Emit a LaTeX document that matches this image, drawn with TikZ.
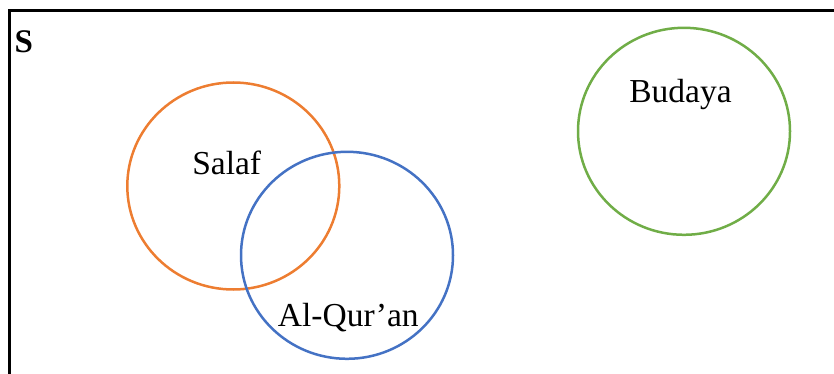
\documentclass[tikz,border=0pt]{standalone}
\usepackage{fontspec}
\setmainfont{Liberation Serif}
\usetikzlibrary{shapes.geometric}
\definecolor{setorange}{HTML}{ED7D31}
\definecolor{setblue}{HTML}{4472C4}
\definecolor{setgreen}{HTML}{70AD47}
\tikzset{
  setring/.style={ellipse, draw=#1, line width=2.5pt, inner sep=0pt,
                  minimum width=212pt, minimum height=207pt},
  setlabel/.style={anchor=base, inner sep=0pt,
                   font=\fontsize{33.5}{40}\selectfont},
}
\begin{document}
\begin{tikzpicture}[x=1pt, y=-1pt]
  \useasboundingbox (0,0) rectangle (834,374);
  \clip (0,0) rectangle (834,374);
  % universe frame (only its left and top edges fall inside the page)
  \draw[line width=3pt] (9.5,420) -- (9.5,11) -- (880,11);
  \node[anchor=base west, inner sep=0pt, font=\fontsize{33}{40}\selectfont\bfseries] (uni) at (14.5,52.3) {S};
  % the three sets
  \node[setring=setorange] (salaf) at (233.3,186) {};
  \node[setring=setblue] (quran) at (347,255.3) {};
  \node[setring=setgreen] (budaya) at (684,131.3) {};
  % their labels
  \node[setlabel] (salaflbl) at (226.7,175) {Salaf};
  \node[setlabel] (quranlbl) at (348.3,326.7) {Al-Qur’an};
  \node[setlabel] (budayalbl) at (680.5,102.3) {Budaya};
\end{tikzpicture}
\end{document}
